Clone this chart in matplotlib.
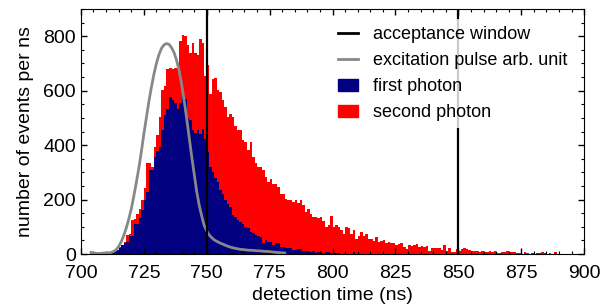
import numpy as np
import matplotlib
matplotlib.use("Agg")
import matplotlib.pyplot as plt
from matplotlib.patches import Patch
from matplotlib.lines import Line2D
from matplotlib.ticker import MultipleLocator

plt.rcParams['font.family'] = ['Liberation Sans', 'DejaVu Sans']

# Histogramas (1 ns por bin)
first_start = 711
first_photon = [2, 4, 9, 14, 24, 33, 39, 45, 66, 68, 110, 112, 131, 161, 198, 229, 308, 310, 357, 378,
                394, 455, 512, 531, 575, 565, 555, 534, 553, 583, 569, 498, 492, 455, 443, 455, 440, 459,
                424, 375, 320, 302, 280, 265, 235, 222, 198, 185, 174, 143, 137, 125, 119, 112, 100, 94,
                80, 76, 70, 68, 64, 39, 51, 45, 45, 33, 39, 39, 27, 27, 24, 21, 21, 15, 15, 17, 17, 12,
                12, 10, 8, 11, 5, 8, 11, 5, 8, 8, 4, 4, 4, 3, 2, 2, 1, 1, 1, 8, 1, 2, 1, 1, 0, 1, 0]

second_start = 711
second_photon = [3, 5, 10, 15, 27, 30, 45, 70, 72, 125, 128, 149, 165, 200, 241, 333, 335, 320, 394, 437,
                 504, 602, 616, 681, 683, 681, 683, 700, 783, 806, 800, 767, 737, 774, 737, 730, 789, 774,
                 653, 693, 589, 644, 648, 602, 596, 565, 540, 504, 516, 504, 470, 455, 455, 418, 412, 382,
                 410, 357, 333, 320, 320, 308, 284, 265, 274, 257, 257, 247, 222, 222, 204, 198, 198, 192,
                 198, 186, 198, 180, 155, 164, 149, 137, 137, 131, 135, 122, 100, 107, 139, 100, 107, 98,
                 88, 73, 100, 94, 73, 90, 57, 66, 82, 66, 73, 57, 54, 49, 61, 45, 49, 51, 39, 45, 42, 42,
                 33, 37, 39, 27, 17, 33, 31, 33, 37, 27, 29, 27, 29, 12, 21, 24, 21, 21, 15, 35, 12, 21,
                 7, 7, 17, 12, 17, 23, 20, 15, 12, 11, 11, 9, 11, 6, 9, 11, 9, 10, 5, 5, 6, 6, 11, 6, 6,
                 6, 3, 4, 2, 7, 5, 2, 4, 2, 4, 3, 7, 5, 2, 3, 2, 6, 2, 1]

# Pulso de excitación (unidades arbitrarias)
pulse_start = 704
pulse = [6, 4, 3, 2, 3, 4, 4, 5, 6, 10, 16, 28, 45, 68, 95, 128, 165, 212, 262, 315, 375, 440, 500,
         560, 612, 660, 700, 732, 755, 768, 773, 770, 758, 740, 712, 675, 625, 565, 500, 430, 360, 295,
         230, 180, 140, 105, 85, 70, 60, 52, 47, 42, 38, 34, 30, 27, 24, 22, 20, 18, 17, 16, 15, 14,
         14, 13, 12, 12, 11, 10, 10, 9, 8, 7, 6, 5, 5, 4]

# Ventana de aceptación
window = [750, 850]

t_first = first_start + np.arange(len(first_photon))
t_second = second_start + np.arange(len(second_photon))
t_pulse = pulse_start + np.arange(len(pulse))

fig = plt.figure(figsize=(6.13, 3.08), dpi=100)
ax = fig.add_axes([0.132, 0.175, 0.821, 0.796])

ax.bar(t_second, second_photon, width=1, align='edge', color='#ff0000', linewidth=0)
ax.bar(t_first, first_photon, width=1, align='edge', color='#000080', linewidth=0)
ax.plot(t_pulse, pulse, color='#888888', lw=2)
for w in window:
    ax.axvline(w, color='black', lw=1.6)

ax.set_xlim(700, 900)
ax.set_ylim(0, 900)
ax.xaxis.set_major_locator(MultipleLocator(25))
ax.xaxis.set_minor_locator(MultipleLocator(5))
ax.yaxis.set_major_locator(MultipleLocator(200))
ax.yaxis.set_minor_locator(MultipleLocator(50))
ax.tick_params(which='both', direction='in', top=True, right=True, labelsize=14)
ax.tick_params(which='major', length=4, width=1)
ax.tick_params(which='minor', length=2.5, width=0.8)
ax.tick_params(axis='x', which='major', pad=7.5)
ax.set_xlabel('detection time (ns)', fontsize=14, labelpad=4)
ax.set_ylabel('number of events per ns', fontsize=14, labelpad=7)

handles = [Line2D([], [], color='black', lw=2),
           Line2D([], [], color='#888888', lw=2),
           Patch(color='#000080'),
           Patch(color='#ff0000')]
labels = ['acceptance window', 'excitation pulse arb. unit', 'first photon', 'second photon']
leg = ax.legend(handles, labels, loc='upper right', fontsize=13, frameon=True, framealpha=0.8,
                edgecolor='none', fancybox=False, handlelength=1.1, handletextpad=0.8,
                labelspacing=0.5, borderaxespad=0.55)

fig.savefig('out.png', dpi=100)
